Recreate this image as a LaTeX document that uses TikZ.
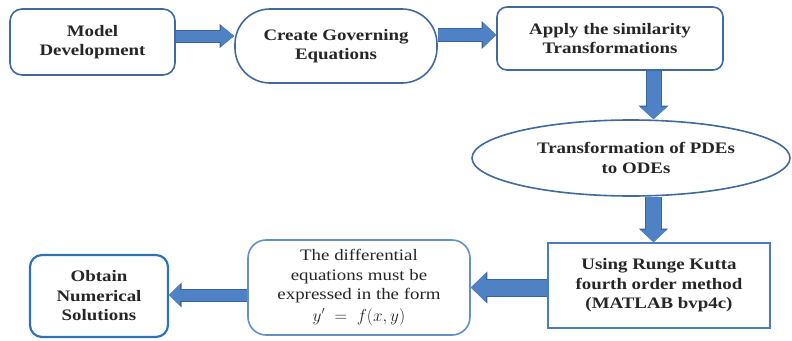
\documentclass[tikz,border=0pt]{standalone}
\usepackage{fontspec}
\setmainfont{Liberation Serif}[FakeStretch=1.18]
\usetikzlibrary{shapes.geometric,arrows.meta,backgrounds}
\definecolor{bord}{HTML}{41699C}
\definecolor{bordb}{HTML}{2E73B5}
\definecolor{bordc}{HTML}{4A7BBD}
\definecolor{arrowc}{HTML}{4F82C4}
\definecolor{arrowd}{HTML}{3A64A0}
\definecolor{txtc}{HTML}{262626}
\begin{document}
\begin{tikzpicture}[x=1pt,y=-1pt,
  txt/.style={align=center, inner sep=0pt, text=txtc, font=\fontsize{16}{19.5}\selectfont\bfseries},
  box/.style={txt, draw=bord, line width=1.6pt, fill=white, rounded corners=#1},
  box/.default=12pt,
  barrow/.style n args={6}{draw=arrowc, line width=#1, -{Triangle[length=#2, width=#3]},
    preaction={draw=arrowd, line width=#4, -{Triangle[length=#5, width=#6]}}}]
\useasboundingbox (0,0) rectangle (792,340);
\node[box, minimum width=165pt, minimum height=66pt] (n1) at (92.5,42) {Model\\Development};
\node[box=35pt, minimum width=202pt, minimum height=74pt] (n2) at (336,46) {Create Governing\\Equations};
\node[box=10pt, minimum width=226pt, minimum height=63pt] (n3) at (610,38.5) {Apply the similarity\\Transformations};
\node[txt, ellipse, draw=bord, line width=1.6pt, fill=white, minimum width=318pt, minimum height=76pt] (ell) at (631,158) {\hspace*{10pt}Transformation of PDEs\\[1pt]\hspace*{10pt}to ODEs};
\node[txt, draw=bordc, line width=1.6pt, fill=white, minimum width=222pt, minimum height=85pt] (n5) at (659,285.5) {Using Runge Kutta\\fourth order method\\(MATLAB bvp4c)};
\node[box=18pt, draw=bordc!85!white, minimum width=222pt, minimum height=95pt, font=\fontsize{16}{19.5}\selectfont] (n6) at (359,287.5) {The differential\\equations must be\\expressed in the form\\[2pt]$y' \;=\; f(x,y)$};
\node[box, draw=bordb, line width=2.2pt, minimum width=138pt, minimum height=82pt] (n7) at (99,296) {Obtain\\Numerical\\Solutions};
\begin{pgfonlayer}{background}
\draw[barrow={11pt}{13pt}{20pt}{13pt}{14.5pt}{23pt}] ([yshift=6pt]n1.east) -- ([yshift=10pt]n2.west);
\draw[barrow={12pt}{13pt}{24pt}{14pt}{14.5pt}{27pt}] ([yshift=11pt]n2.east) -- ([yshift=3.5pt]n3.west);
\draw[barrow={14pt}{12pt}{26pt}{16pt}{13.5pt}{29pt}] ([xshift=43.5pt]n3.south) -- ([xshift=22.5pt]ell.north);
\draw[barrow={15pt}{12pt}{25pt}{17pt}{13.5pt}{28pt}] ([xshift=22.5pt]ell.south) -- ([xshift=-5.5pt]n5.north);
\draw[barrow={16pt}{15pt}{28pt}{18pt}{16.5pt}{31pt}] ([yshift=-2pt]n5.west) -- (n6.east);
\draw[barrow={11pt}{11pt}{21pt}{13pt}{12.5pt}{24pt}] ([yshift=-7.5pt]n6.west) -- ([yshift=1pt]n7.east);
\end{pgfonlayer}
\end{tikzpicture}
\end{document}
